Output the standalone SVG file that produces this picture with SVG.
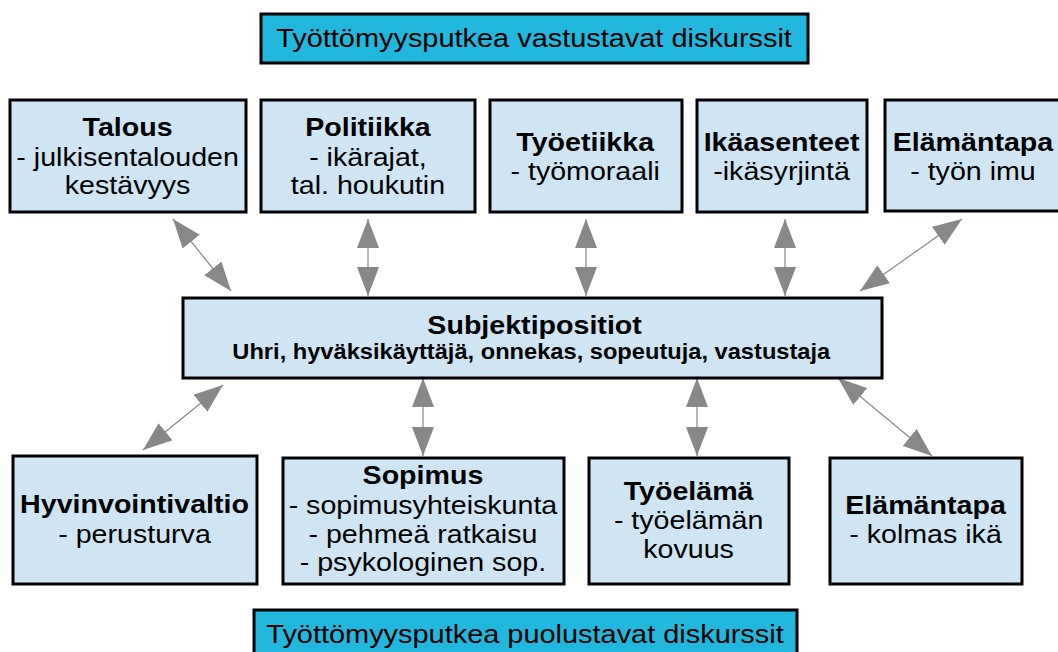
<svg xmlns="http://www.w3.org/2000/svg" width="1058" height="652" viewBox="0 0 1058 652">
<defs>
<style>
.box{fill:#cfe5f3;stroke:#000;stroke-width:3}
.ban{fill:#22b7dd;stroke:#000;stroke-width:3}
text{font-family:"Liberation Sans",Arial,sans-serif;fill:#000;text-anchor:middle}
.t{font-size:26px;font-weight:bold}
.r{font-size:26px}
.bt{font-size:26.3px}
.c1{font-size:26px;font-weight:bold}
.c2{font-size:21.5px;font-weight:bold}
.ar{stroke:#888;stroke-width:1.2;fill:none;marker-start:url(#ah);marker-end:url(#ah)}
</style>
<marker id="ah" markerWidth="29" markerHeight="22" refX="29" refY="11" orient="auto-start-reverse" markerUnits="userSpaceOnUse" viewBox="0 0 29 22">
<path d="M0,0 L29,11 L0,22 z" fill="#888"/>
</marker>
</defs>
<rect width="1058" height="652" fill="#fff"/>
<g id="connectors">
<line class="ar" x1="173" y1="219" x2="231" y2="291"/>
<line class="ar" x1="368" y1="219" x2="368" y2="296"/>
<line class="ar" x1="586" y1="219" x2="586" y2="296"/>
<line class="ar" x1="785" y1="219" x2="785" y2="296"/>
<line class="ar" x1="962" y1="219" x2="860" y2="291"/>
<line class="ar" x1="223" y1="385" x2="143" y2="450"/>
<line class="ar" x1="423" y1="378" x2="423" y2="456"/>
<line class="ar" x1="697" y1="378" x2="697" y2="456"/>
<line class="ar" x1="838" y1="378" x2="932" y2="456"/>
</g>
<g id="banner-top">
<rect class="ban" x="261" y="14" width="547" height="49"/>
<text class="bt" transform="scale(1.1 1)" x="485.5" y="47">Työttömyysputkea vastustavat diskurssit</text>
</g>
<g id="talous">
<rect class="box" x="10" y="100" width="236" height="112"/>
<text class="t" transform="scale(1.1 1)" x="116" y="136">Talous</text>
<text class="r" transform="scale(1.1 1)" x="116" y="166">- julkisentalouden</text>
<text class="r" transform="scale(1.1 1)" x="116" y="194">kestävyys</text>
</g>
<g id="politiikka">
<rect class="box" x="261" y="100" width="214" height="112"/>
<text class="t" transform="scale(1.1 1)" x="334.5" y="136">Politiikka</text>
<text class="r" transform="scale(1.1 1)" x="334.5" y="166">- ikärajat,</text>
<text class="r" transform="scale(1.1 1)" x="334.5" y="194">tal. houkutin</text>
</g>
<g id="tyoetiikka">
<rect class="box" x="490" y="100" width="192" height="112"/>
<text class="t" transform="scale(1.1 1)" x="532" y="151">Työetiikka</text>
<text class="r" transform="scale(1.1 1)" x="532" y="180">- työmoraali</text>
</g>
<g id="ikaasenteet">
<rect class="box" x="697" y="100" width="170" height="112"/>
<text class="t" transform="scale(1.1 1)" x="710.5" y="151">Ikäasenteet</text>
<text class="r" transform="scale(1.1 1)" x="710.5" y="180">-ikäsyrjintä</text>
</g>
<g id="elamantapa-top">
<rect class="box" x="885" y="100" width="180" height="111"/>
<text class="t" transform="scale(1.1 1)" x="884.5" y="151">Elämäntapa</text>
<text class="r" transform="scale(1.1 1)" x="884.5" y="180">- työn imu</text>
</g>
<g id="subjektipositiot">
<rect class="box" x="183" y="298" width="699" height="80"/>
<text class="c1" transform="scale(1.1 1)" x="486" y="334">Subjektipositiot</text>
<text class="c2" transform="scale(1.1 1)" x="483" y="359">Uhri, hyväksikäyttäjä, onnekas, sopeutuja, vastustaja</text>
</g>
<g id="hyvinvointivaltio">
<rect class="box" x="13" y="456" width="244" height="128"/>
<text class="t" transform="scale(1.1 1)" x="122.3" y="513">Hyvinvointivaltio</text>
<text class="r" transform="scale(1.1 1)" x="122.3" y="543">- perusturva</text>
</g>
<g id="sopimus">
<rect class="box" x="283" y="458" width="281" height="126"/>
<text class="t" transform="scale(1.1 1)" x="384.5" y="484">Sopimus</text>
<text class="r" transform="scale(1.1 1)" x="384.5" y="514">- sopimusyhteiskunta</text>
<text class="r" transform="scale(1.1 1)" x="384.5" y="543">- pehmeä ratkaisu</text>
<text class="r" transform="scale(1.1 1)" x="384.5" y="571">- psykologinen sop.</text>
</g>
<g id="tyoelama">
<rect class="box" x="589" y="458" width="200" height="126"/>
<text class="t" transform="scale(1.1 1)" x="626" y="500">Työelämä</text>
<text class="r" transform="scale(1.1 1)" x="626" y="529">- työelämän</text>
<text class="r" transform="scale(1.1 1)" x="626" y="558">kovuus</text>
</g>
<g id="elamantapa-bottom">
<rect class="box" x="830" y="458" width="192" height="126"/>
<text class="t" transform="scale(1.1 1)" x="841.4" y="514">Elämäntapa</text>
<text class="r" transform="scale(1.1 1)" x="841.4" y="543">- kolmas ikä</text>
</g>
<g id="banner-bottom">
<rect class="ban" x="254" y="610" width="543" height="50"/>
<text class="bt" transform="scale(1.1 1)" x="477.3" y="643">Työttömyysputkea puolustavat diskurssit</text>
</g>
</svg>
